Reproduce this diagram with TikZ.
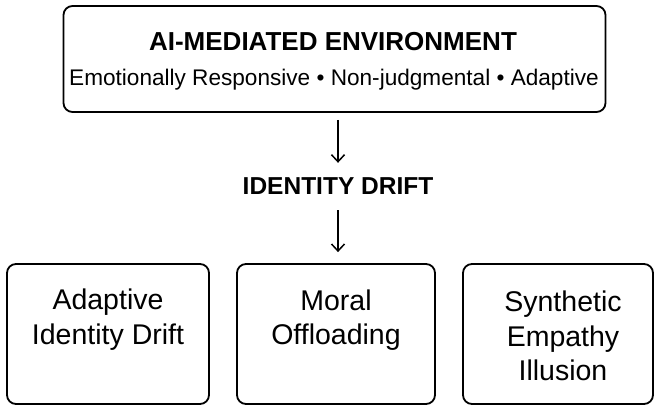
\documentclass[tikz,border=0pt]{standalone}
\usepackage{fontspec}
\setmainfont{Liberation Sans}
\usetikzlibrary{arrows.meta}
\begin{document}
\begin{tikzpicture}[x=1pt,y=-1pt,
  box/.style={draw=black, line width=1.8pt, rounded corners=9pt, inner sep=0pt},
  arr/.style={line width=1.5pt, -{Straight Barb[length=7pt,width=13pt,line width=1.5pt]}},
  ttl/.style={inner sep=0pt, font=\bfseries\fontsize{26}{30}\selectfont},
  sub/.style={inner sep=0pt, font=\fontsize{22.6}{26}\selectfont},
  lbl/.style={inner sep=0pt, align=center, font=\fontsize{28.5}{34.5}\selectfont}]
\useasboundingbox (0,0) rectangle (656,405);
\fill[white] (0,0) rectangle (656,405);
% top box
\node[box, minimum width=542pt, minimum height=106pt] (top) at (334.5,59) {};
\node[ttl] (title) at (333,42) {AI-MEDIATED ENVIRONMENT};
\node[sub] (subt) at (334,80) {Emotionally Responsive • Non-judgmental • Adaptive};
% middle
\node[inner sep=0pt, text height=18pt, text depth=0pt, font=\bfseries\fontsize{24.5}{28}\selectfont] (drift) at (338,185) {IDENTITY DRIFT};
% bottom boxes
\node[box, minimum width=202pt, minimum height=140pt] (b1) at (108,334) {};
\node[box, minimum width=198pt, minimum height=140pt] (b2) at (336,334) {};
\node[box, minimum width=190pt, minimum height=140pt] (b3) at (558,334) {};
\node[lbl] (t1) at (108,319.5) {Adaptive\\Identity Drift};
\node[lbl] (t2) at (336,320) {Moral\\Offloading};
\node[lbl] (t3) at (563,336) {Synthetic\\Empathy\\Illusion};
% arrows
\draw[arr, shorten <=7pt, shorten >=13pt] (top.south -| drift.north) -- (drift.north);
\draw[arr, shorten <=16pt, shorten >=11pt] (drift.south) -- (drift.south |- b2.north);
\end{tikzpicture}
\end{document}
